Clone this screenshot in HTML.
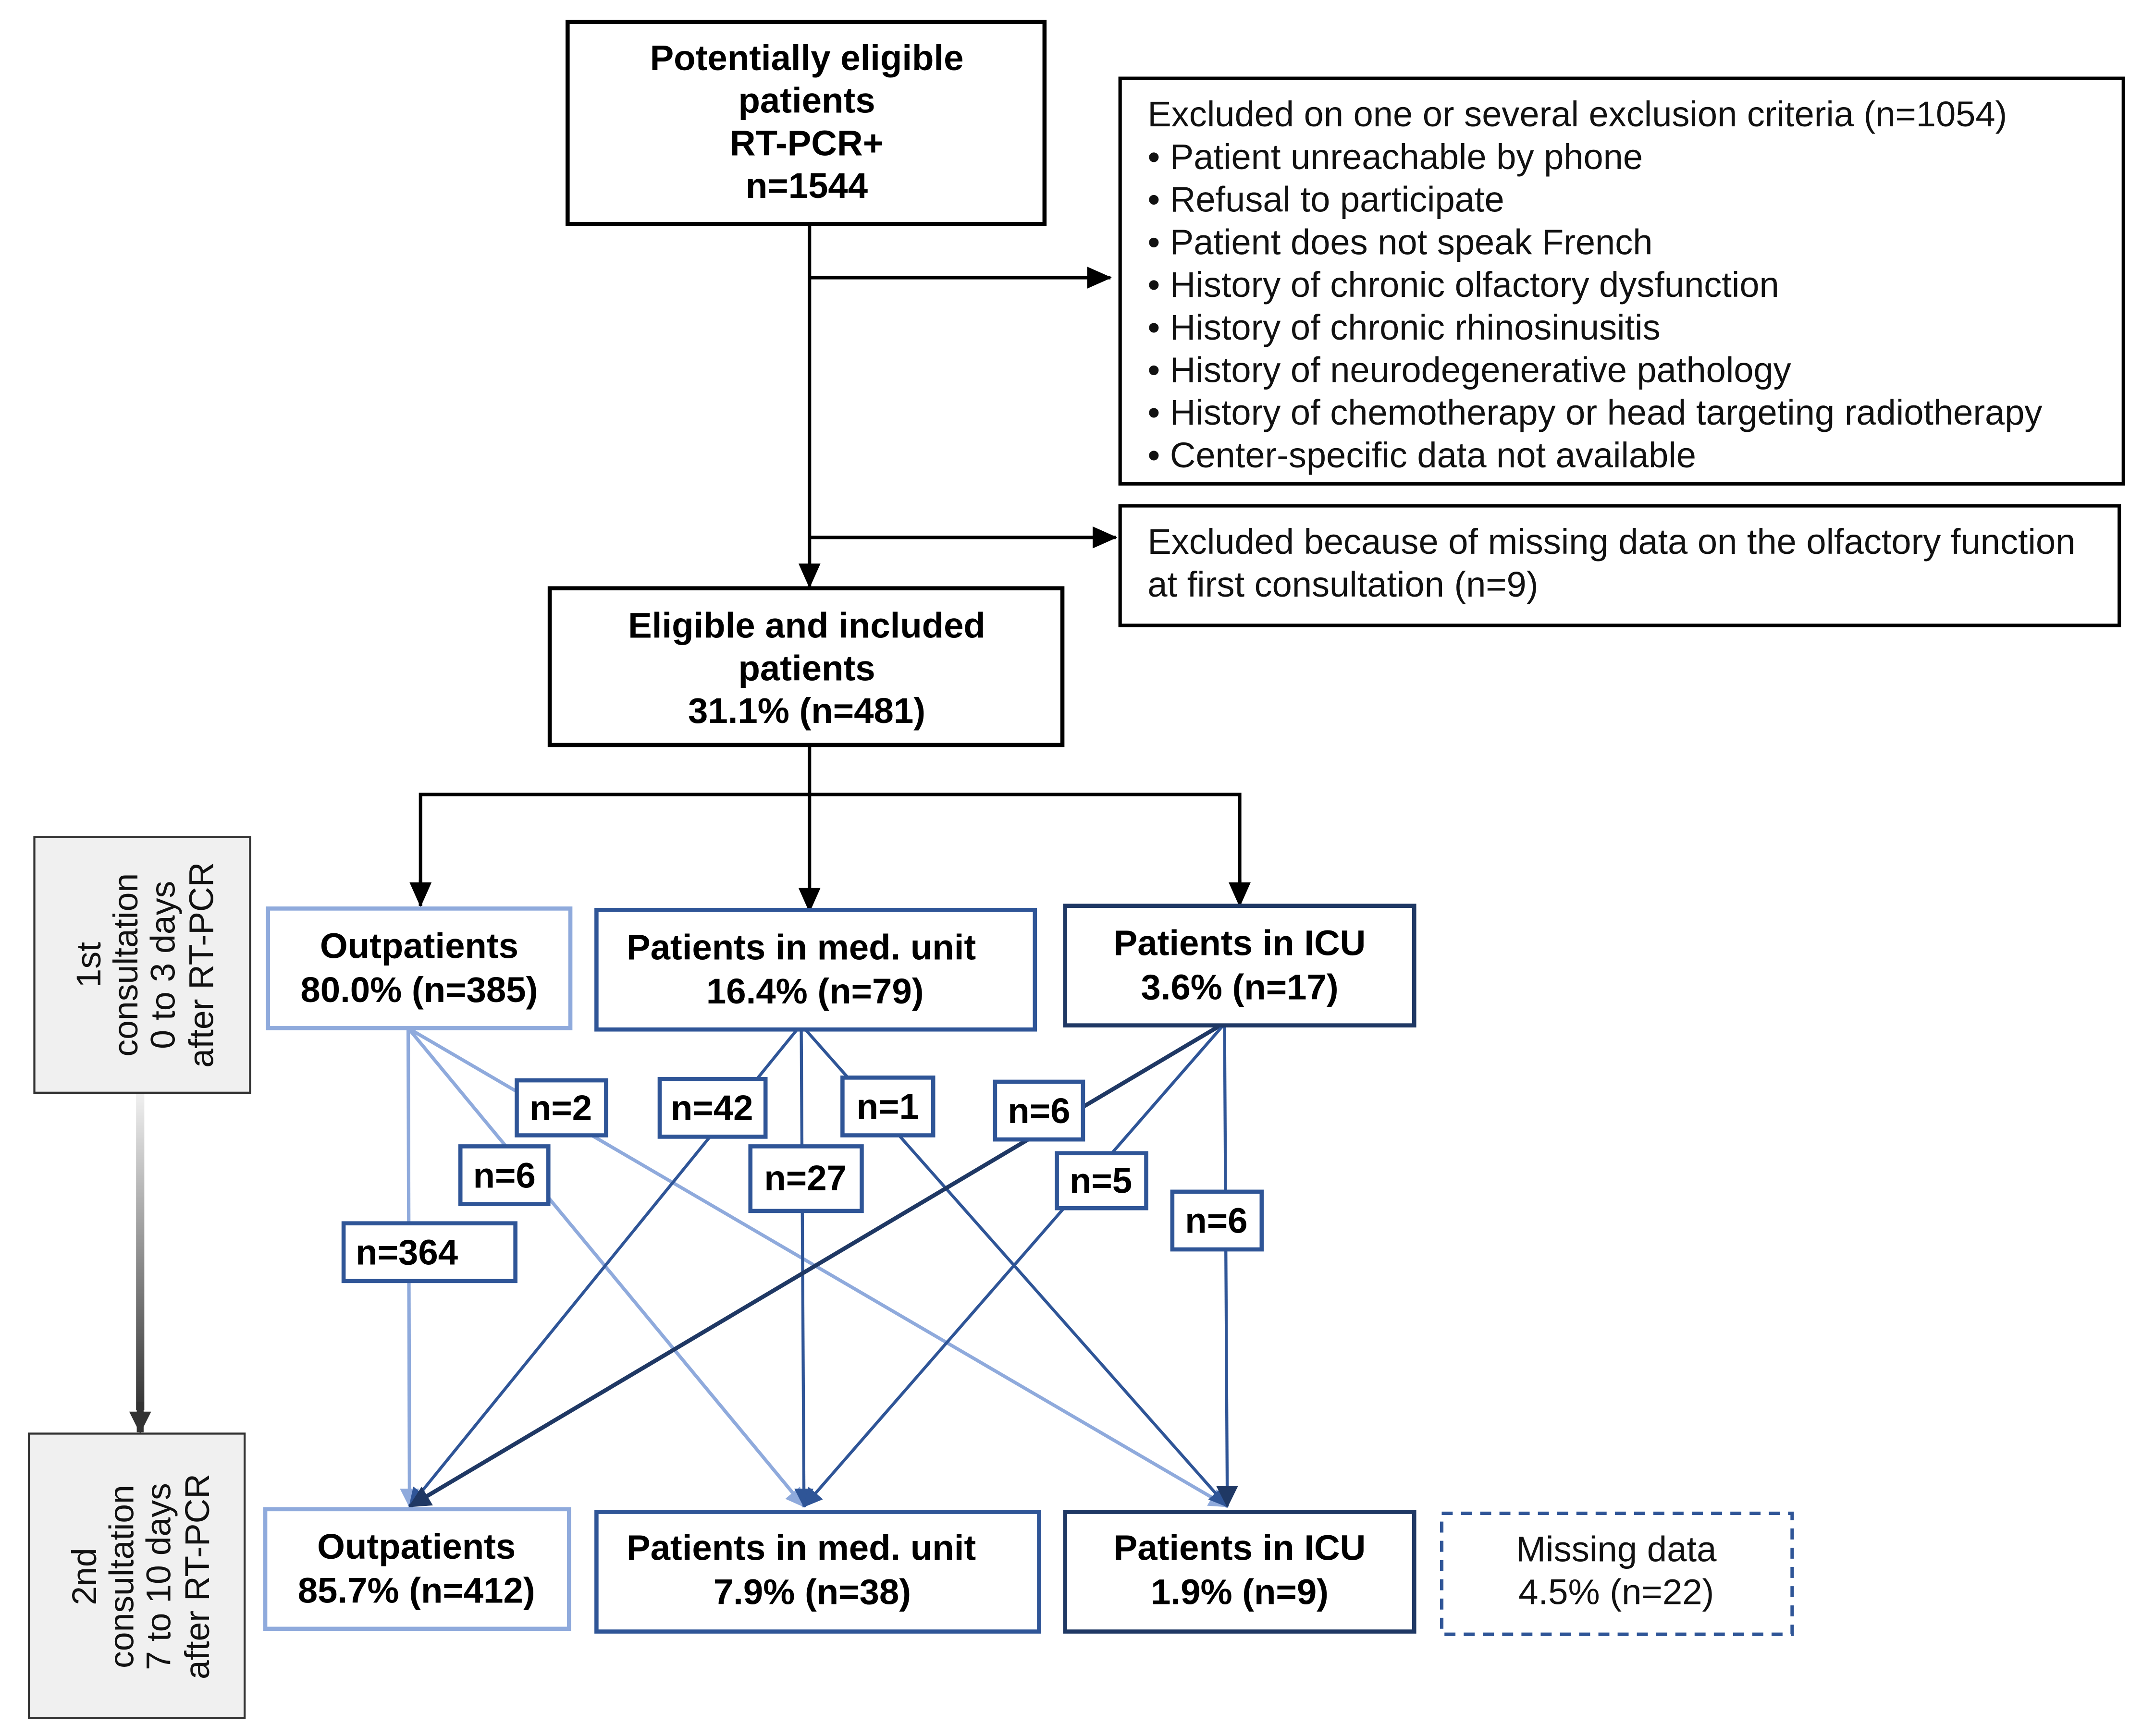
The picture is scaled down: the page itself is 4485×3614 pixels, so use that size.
<!DOCTYPE html>
<html><head><meta charset="utf-8"><style>
html,body{margin:0;padding:0;background:#fff;}
svg{display:block;}
text{font-family:"Liberation Sans",Arial,sans-serif;}
.b{font-weight:bold;font-size:26px;text-anchor:middle;fill:#000;}
.t{font-weight:bold;font-size:26px;text-anchor:middle;fill:#000;}
.r{font-size:25.9px;fill:#111;}
.lbl{font-weight:bold;font-size:26px;text-anchor:middle;fill:#000;}
.g{font-size:25px;text-anchor:middle;fill:#111;}
.m{font-size:26px;text-anchor:middle;fill:#111;}
</style></head><body>
<svg width="4485" height="3614" viewBox="0 0 1568 1263" preserveAspectRatio="none" xmlns="http://www.w3.org/2000/svg">
<defs>
<marker id="akL" markerWidth="18" markerHeight="16" refX="17" refY="8" orient="auto" markerUnits="userSpaceOnUse"><path d="M0,0 L18,8 L0,16 z" fill="#000"/></marker>
<marker id="al" markerWidth="14" markerHeight="14" refX="13" refY="7" orient="auto" markerUnits="userSpaceOnUse"><path d="M0,0 L14,7 L0,14 z" fill="#8faadc"/></marker>
<marker id="am" markerWidth="14" markerHeight="14" refX="13" refY="7" orient="auto" markerUnits="userSpaceOnUse"><path d="M0,0 L14,7 L0,14 z" fill="#2f5597"/></marker>
<marker id="ad" markerWidth="16" markerHeight="16" refX="15" refY="8" orient="auto" markerUnits="userSpaceOnUse"><path d="M0,0 L16,8 L0,16 z" fill="#1f3864"/></marker>
<marker id="ag" markerWidth="16" markerHeight="16" refX="15" refY="8" orient="auto" markerUnits="userSpaceOnUse"><path d="M0,0 L16,8 L0,16 z" fill="#333"/></marker>
<linearGradient id="gr" x1="0" y1="0" x2="0" y2="1"><stop offset="0" stop-color="#f0f0f0"/><stop offset="1" stop-color="#333"/></linearGradient>
</defs>

<line x1="589" y1="163" x2="589" y2="427" stroke="#000" stroke-width="2.5" marker-end="url(#akL)"/>
<line x1="589" y1="202" x2="808" y2="202" stroke="#000" stroke-width="2.5" marker-end="url(#akL)"/>
<line x1="589" y1="391" x2="812" y2="391" stroke="#000" stroke-width="2.5" marker-end="url(#akL)"/>
<line x1="589" y1="542" x2="589" y2="663" stroke="#000" stroke-width="2.5" marker-end="url(#akL)"/>
<polyline points="306,659 306,578 902,578 902,659" fill="none" stroke="#000" stroke-width="2.5"/>
<line x1="306" y1="640" x2="306" y2="659" stroke="#000" stroke-width="2.5" marker-end="url(#akL)"/>
<line x1="902" y1="640" x2="902" y2="659" stroke="#000" stroke-width="2.5" marker-end="url(#akL)"/>

<rect x="413" y="16" width="347" height="147" fill="#fff" stroke="#000" stroke-width="3"/>
<text class="t" x="587" y="51">Potentially eligible</text>
<text class="t" x="587" y="82">patients</text>
<text class="t" x="587" y="113">RT-PCR+</text>
<text class="t" x="587" y="144">n=1544</text>

<rect x="815" y="57" width="730" height="295" fill="#fff" stroke="#000" stroke-width="2.5"/>
<text class="r" x="835" y="92">Excluded on one or several exclusion criteria (n=1054)</text>
<text class="r" x="835" y="123">• Patient unreachable by phone</text>
<text class="r" x="835" y="154">• Refusal to participate</text>
<text class="r" x="835" y="185">• Patient does not speak French</text>
<text class="r" x="835" y="216">• History of chronic olfactory dysfunction</text>
<text class="r" x="835" y="247">• History of chronic rhinosinusitis</text>
<text class="r" x="835" y="278">• History of neurodegenerative pathology</text>
<text class="r" x="835" y="309">• History of chemotherapy or head targeting radiotherapy</text>
<text class="r" x="835" y="340">• Center-specific data not available</text>

<rect x="815" y="368" width="727" height="87" fill="#fff" stroke="#000" stroke-width="2.5"/>
<text class="r" x="835" y="403">Excluded because of missing data on the olfactory function</text>
<text class="r" x="835" y="434">at first consultation (n=9)</text>

<rect x="400" y="428" width="373" height="114" fill="#fff" stroke="#000" stroke-width="3"/>
<text class="b" x="587" y="464">Eligible and included</text>
<text class="b" x="587" y="495">patients</text>
<text class="b" x="587" y="526">31.1% (n=481)</text>

<rect x="25" y="609" width="157" height="186" fill="#f0f0f0" stroke="#333" stroke-width="1.5"/>
<g transform="translate(103,702) rotate(-90)">
<text class="g" x="0" y="-30">1st</text>
<text class="g" x="0" y="-3">consultation</text>
<text class="g" x="0" y="24">0 to 3 days</text>
<text class="g" x="0" y="52">after RT-PCR</text>
</g>
<rect x="21" y="1043" width="157" height="207" fill="#f0f0f0" stroke="#333" stroke-width="1.5"/>
<g transform="translate(100,1147) rotate(-90)">
<text class="g" x="0" y="-30">2nd</text>
<text class="g" x="0" y="-3">consultation</text>
<text class="g" x="0" y="24">7 to 10 days</text>
<text class="g" x="0" y="52">after RT-PCR</text>
</g>
<rect x="99" y="796" width="6" height="230" fill="url(#gr)"/>
<line x1="102" y1="1020" x2="102" y2="1042" stroke="#333" stroke-width="5" marker-end="url(#ag)"/>

<g fill="none">
<line x1="297" y1="748" x2="298" y2="1096" stroke="#8faadc" stroke-width="2.5" marker-end="url(#al)"/>
<line x1="297" y1="748" x2="585" y2="1096" stroke="#8faadc" stroke-width="2.5" marker-end="url(#al)"/>
<line x1="297" y1="748" x2="893" y2="1096" stroke="#8faadc" stroke-width="2.5" marker-end="url(#al)"/>
<line x1="580" y1="749" x2="298" y2="1096" stroke="#2f5597" stroke-width="2.2" marker-end="url(#am)"/>
<line x1="583" y1="749" x2="585" y2="1096" stroke="#2f5597" stroke-width="2.2" marker-end="url(#am)"/>
<line x1="586" y1="749" x2="893" y2="1096" stroke="#2f5597" stroke-width="2.2" marker-end="url(#am)"/>
<line x1="888" y1="746" x2="298" y2="1096" stroke="#1f3864" stroke-width="3" marker-end="url(#ad)"/>
<line x1="890" y1="746" x2="585" y2="1096" stroke="#2f5597" stroke-width="2.2" marker-end="url(#am)"/>
<line x1="891" y1="746" x2="893" y2="1096" stroke="#2f5597" stroke-width="2.2" marker-end="url(#ad)"/>
</g>

<rect x="195" y="661" width="220" height="87" fill="#fff" stroke="#8faadc" stroke-width="3"/>
<text class="b" x="305" y="697">Outpatients</text>
<text class="b" x="305" y="729">80.0% (n=385)</text>
<rect x="434" y="662" width="319" height="87" fill="#fff" stroke="#2f5597" stroke-width="3"/>
<text class="b" x="583" y="698">Patients in med. unit</text>
<text class="b" x="593" y="730">16.4% (n=79)</text>
<rect x="775" y="659" width="254" height="87" fill="#fff" stroke="#1f3864" stroke-width="3"/>
<text class="b" x="902" y="695">Patients in ICU</text>
<text class="b" x="902" y="727">3.6% (n=17)</text>

<rect x="193" y="1098" width="221" height="87" fill="#fff" stroke="#8faadc" stroke-width="3"/>
<text class="b" x="303" y="1134">Outpatients</text>
<text class="b" x="303" y="1166">85.7% (n=412)</text>
<rect x="434" y="1100" width="322" height="87" fill="#fff" stroke="#2f5597" stroke-width="3"/>
<text class="b" x="583" y="1135">Patients in med. unit</text>
<text class="b" x="591" y="1167">7.9% (n=38)</text>
<rect x="775" y="1100" width="254" height="87" fill="#fff" stroke="#1f3864" stroke-width="3"/>
<text class="b" x="902" y="1135">Patients in ICU</text>
<text class="b" x="902" y="1167">1.9% (n=9)</text>
<rect x="1049" y="1101" width="255" height="88" fill="#fff" stroke="#2f5597" stroke-width="2.5" stroke-dasharray="8,6"/>
<text class="m" x="1176" y="1136">Missing data</text>
<text class="m" x="1176" y="1167">4.5% (n=22)</text>

<g fill="#fff" stroke="#2f5597" stroke-width="3">
<rect x="376" y="786" width="65" height="40"/>
<rect x="335" y="834" width="64" height="42"/>
<rect x="250" y="890" width="125" height="42"/>
<rect x="480" y="785" width="77" height="42"/>
<rect x="546" y="834" width="81" height="47"/>
<rect x="613" y="784" width="66" height="42"/>
<rect x="724" y="787" width="64" height="42"/>
<rect x="769" y="839" width="65" height="40"/>
<rect x="853" y="867" width="65" height="42"/>
</g>
<text class="lbl" x="408" y="815">n=2</text>
<text class="lbl" x="367" y="864">n=6</text>
<text class="lbl" x="296" y="920">n=364</text>
<text class="lbl" x="518" y="815">n=42</text>
<text class="lbl" x="586" y="866">n=27</text>
<text class="lbl" x="646" y="814">n=1</text>
<text class="lbl" x="756" y="817">n=6</text>
<text class="lbl" x="801" y="868">n=5</text>
<text class="lbl" x="885" y="897">n=6</text>
</svg>
</body></html>
